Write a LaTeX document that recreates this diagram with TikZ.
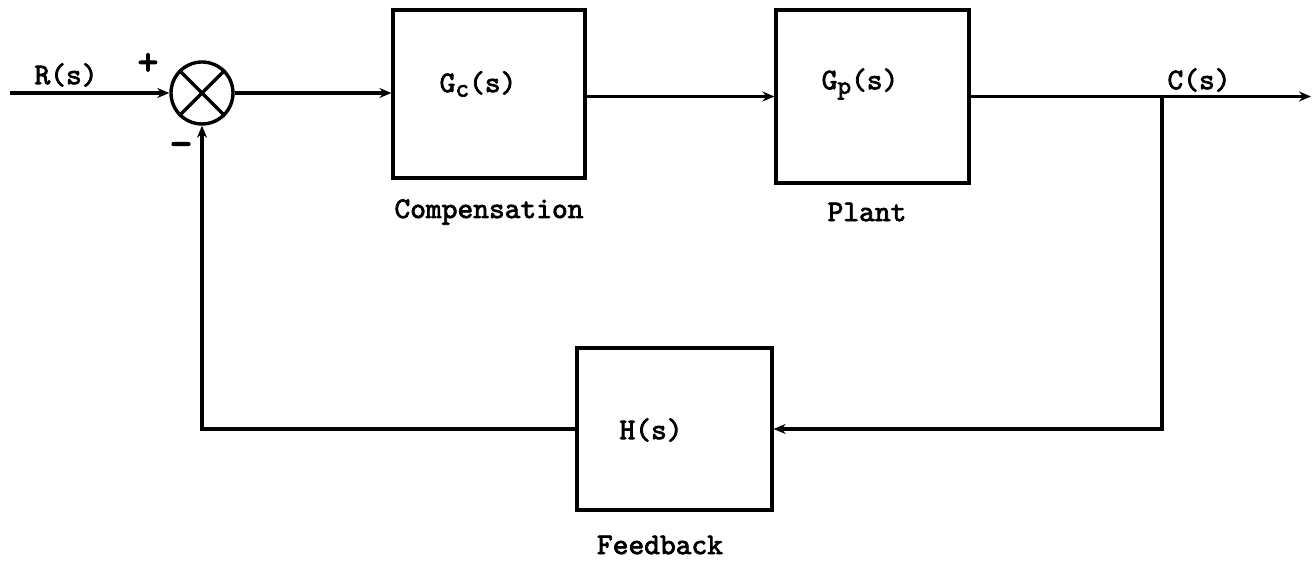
\documentclass[tikz,border=0pt]{standalone}
\usepackage{fontspec}
\newfontfamily\tw{lmmono10-regular.otf}[FakeBold=2.5]
\newcommand{\lowsub}[1]{\raisebox{-0.35ex}{\fontsize{13pt}{13pt}\selectfont #1}}
\usetikzlibrary{arrows.meta}
\begin{document}
\begin{tikzpicture}[x=0.5pt,y=-0.5pt,
  wire/.style={line width=1.6pt},
  arr/.style={wire,-{Stealth[length=6pt,width=5pt]}},
  blk/.style={draw,line width=1.6pt,inner sep=0pt,minimum width=96pt,minimum height=84pt},
  sumj/.style={draw,circle,line width=1.7pt,inner sep=0pt,minimum size=31pt},
  txt/.style={font=\fontsize{15pt}{17pt}\selectfont\tw,inner sep=0pt}]
\useasboundingbox (0,0) rectangle (1312,561);
% blocks
\node[sumj] (sum) at (202,93) {};
\draw[line width=1.6pt] (sum.45) -- (sum.225) (sum.135) -- (sum.315);
\node[blk] (gc) at (489,94) {};
\node[blk,minimum width=96.5pt,minimum height=86.5pt] (gp) at (872.5,96.5) {};
\node[blk,minimum width=97.5pt,minimum height=81pt] (h) at (674.5,429) {};
% texts
\node[txt] (gclab) at (478,84) {G\lowsub{c}(s)};
\node[txt] (gplab) at (860,84) {G\lowsub{p}(s)};
\node[txt] (hlab) at (651,430) {H(s)};
\node[txt] (comp) at (489,212) {Compensation};
\node[txt] (plant) at (867,212) {Plant};
\node[txt] (fb) at (660,545) {Feedback};
\node[txt] (rlab) at (66,75) {R(s)};
\node[txt] (clab) at (1199,80) {C(s)};
\node[txt,font=\fontsize{20pt}{20pt}\selectfont\tw] (plus) at (148,64) {+};
\node[txt,font=\fontsize{22pt}{22pt}\selectfont\tw] (minus) at (181,150) {-};
% coordinates
\coordinate (in) at (10,93);
\coordinate (out) at (1311,96.5);
\coordinate (br) at (1162,96.5);
% connectors
\draw[arr] (in) -- (sum.west);
\draw[arr] (sum.east) -- (sum.east -| gc.west);
\draw[arr] (gc.east |- gp.west) -- (gp.west);
\draw[arr] (gp.east) -- (out);
\draw[arr] (br) |- (h.east);
\draw[arr] (h.west) -| (sum.south);
\end{tikzpicture}
\end{document}
